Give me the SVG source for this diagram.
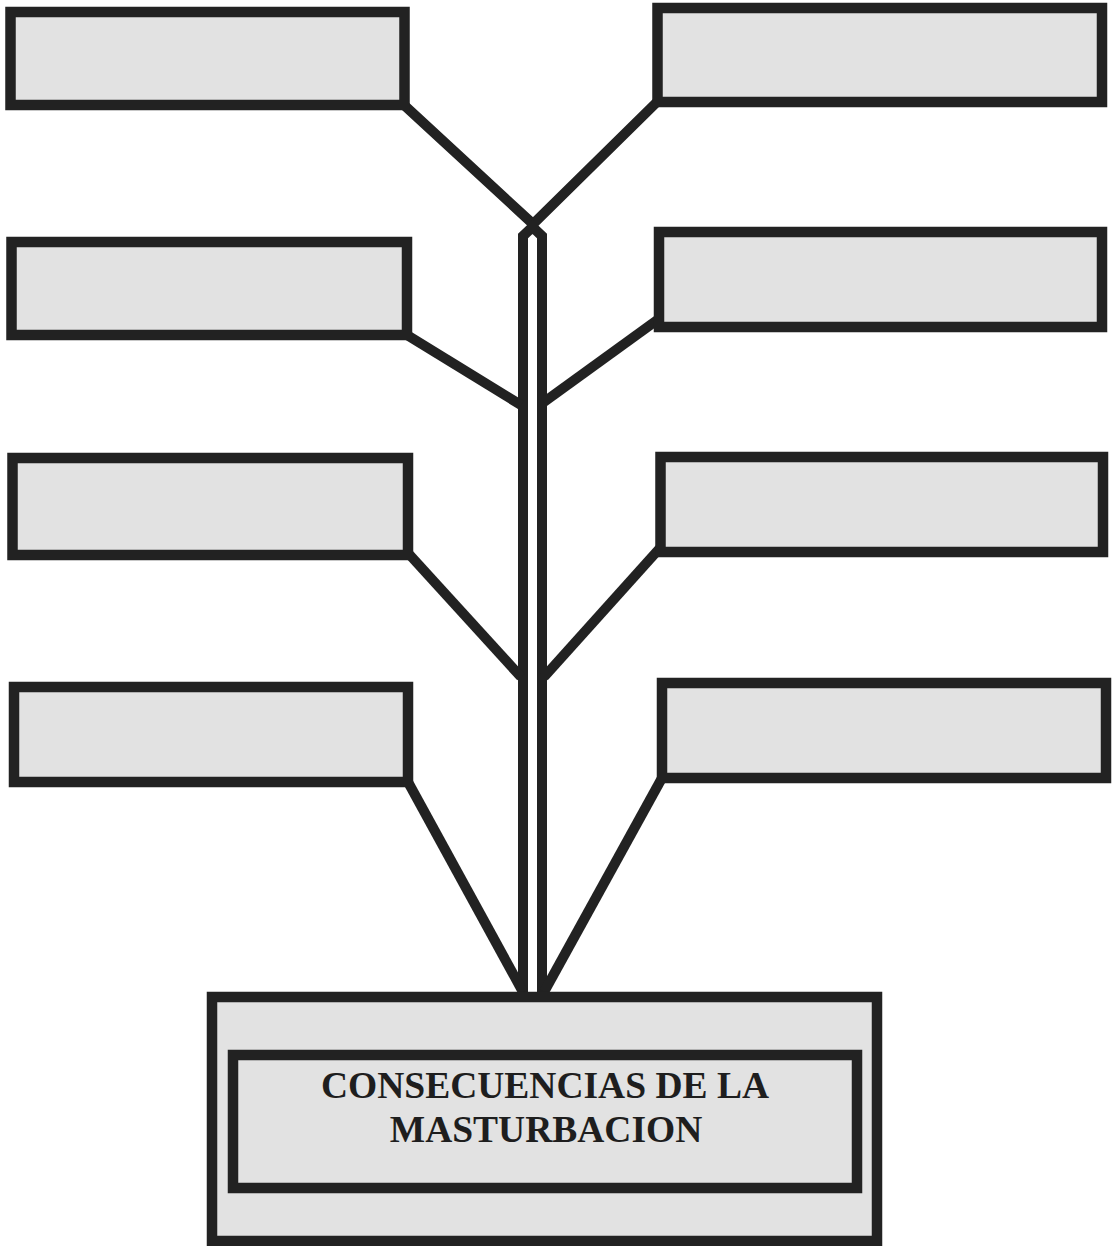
<svg xmlns="http://www.w3.org/2000/svg" width="1112" height="1246" viewBox="0 0 1112 1246">
<style>
.box{fill:#e2e2e2;stroke:#222;stroke-width:10.5}
.con{fill:none;stroke:#222;stroke-width:10;stroke-linejoin:miter}
.lbl{font-family:"Liberation Serif","Times New Roman",serif;font-weight:bold;font-size:37.5px;fill:#1e1e1e;text-anchor:middle}
</style>
<rect width="1112" height="1246" fill="#fff"/>
<g id="connectors">
<path class="con" d="M404,105 L533,224 L657,102"/>
<path class="con" d="M523,996 L523,236 L532.5,227 L542,236 L542,996"/>
<path class="con" d="M407,335 L521,405"/>
<path class="con" d="M660,318 L544,402"/>
<path class="con" d="M408,553 L521,677"/>
<path class="con" d="M660,548 L544,677"/>
<path class="con" d="M408,782 L523,992"/>
<path class="con" d="M662,778 L544,992"/>
</g>
<g id="box-l1"><rect class="box" x="10.5" y="12" width="394" height="93"/></g>
<g id="box-r1"><rect class="box" x="657.5" y="8" width="444.5" height="94"/></g>
<g id="box-l2"><rect class="box" x="11.5" y="242" width="395.5" height="93"/></g>
<g id="box-r2"><rect class="box" x="659" y="232" width="443" height="95"/></g>
<g id="box-l3"><rect class="box" x="12.5" y="458" width="395.5" height="97"/></g>
<g id="box-r3"><rect class="box" x="660.5" y="457" width="442.5" height="95"/></g>
<g id="box-l4"><rect class="box" x="14" y="687" width="394" height="95"/></g>
<g id="box-r4"><rect class="box" x="662" y="683" width="444" height="95"/></g>
<g id="main">
<rect class="box" x="212" y="997" width="665" height="244"/>
<rect class="box" x="233" y="1055" width="624" height="133"/>
<text class="lbl" x="545" y="1098">CONSECUENCIAS DE LA</text>
<text class="lbl" x="546" y="1142">MASTURBACION</text>
</g>
</svg>
